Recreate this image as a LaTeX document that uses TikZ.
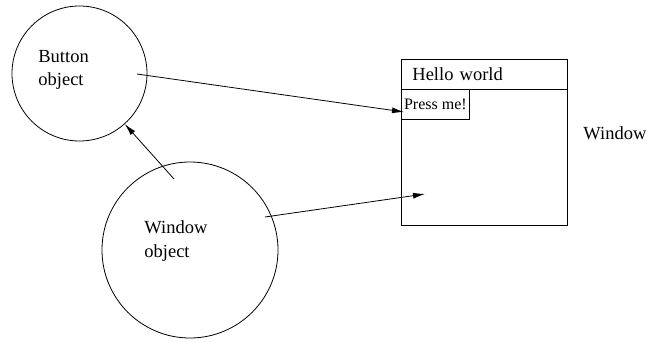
\documentclass[tikz,border=0pt]{standalone}
\usepackage{fontspec}
\setmainfont{Liberation Serif}
\usetikzlibrary{arrows.meta}

\begin{document}
\begin{tikzpicture}[x=1pt,y=-1pt,line width=0.8pt,
	>={Latex[length=12pt,width=6pt]},
	txt/.style={inner sep=0pt,align=left,font=\fontsize{18.5}{23.5}\selectfont},
	win/.style={rectangle,draw,minimum width=166pt,anchor=north west}]
	
		\useasboundingbox (0,0) rectangle (648,342);
	
		% the two objects
		\node[circle,draw,minimum size=135pt] (bobj) at (79.5,73.5) {};
		\node[circle,draw,minimum size=176pt] (wobj) at (190,250) {};
		\node[txt,anchor=west] (btext) at (38,70) {Button\\object};
		\node[txt,anchor=west] (wtext) at (144,241) {Window\\object};
		
		% the window on screen
		\node[win,minimum height=30pt,inner xsep=11pt,text width=144pt,
			align=left,font=\fontsize{18.5}{22}\selectfont] (title) at (401,59) {Hello world};
		\node[win,minimum height=136pt] (body) at (401,89) {};
		\node[rectangle,draw,anchor=north west,inner sep=0pt,minimum width=68pt,
			minimum height=30pt,font=\fontsize{16}{19}\selectfont] (press) at (401,89) {Press me!};
		\node[txt,anchor=base west] (wlabel) at (583,140) {Window};
		
		\coordinate (bstart) at (137,74);
		\coordinate (presshit) at (404,112);
		\coordinate (wstart) at (174,179);
		\coordinate (wptr) at (425,194);
		\coordinate (wstart2) at (265,217);
		
		\path[->] (bstart) edge (presshit);
		\path[->] (wstart) edge (bobj);
		\path[->] (wstart2) edge (wptr);
	\end{tikzpicture}
\end{document}
